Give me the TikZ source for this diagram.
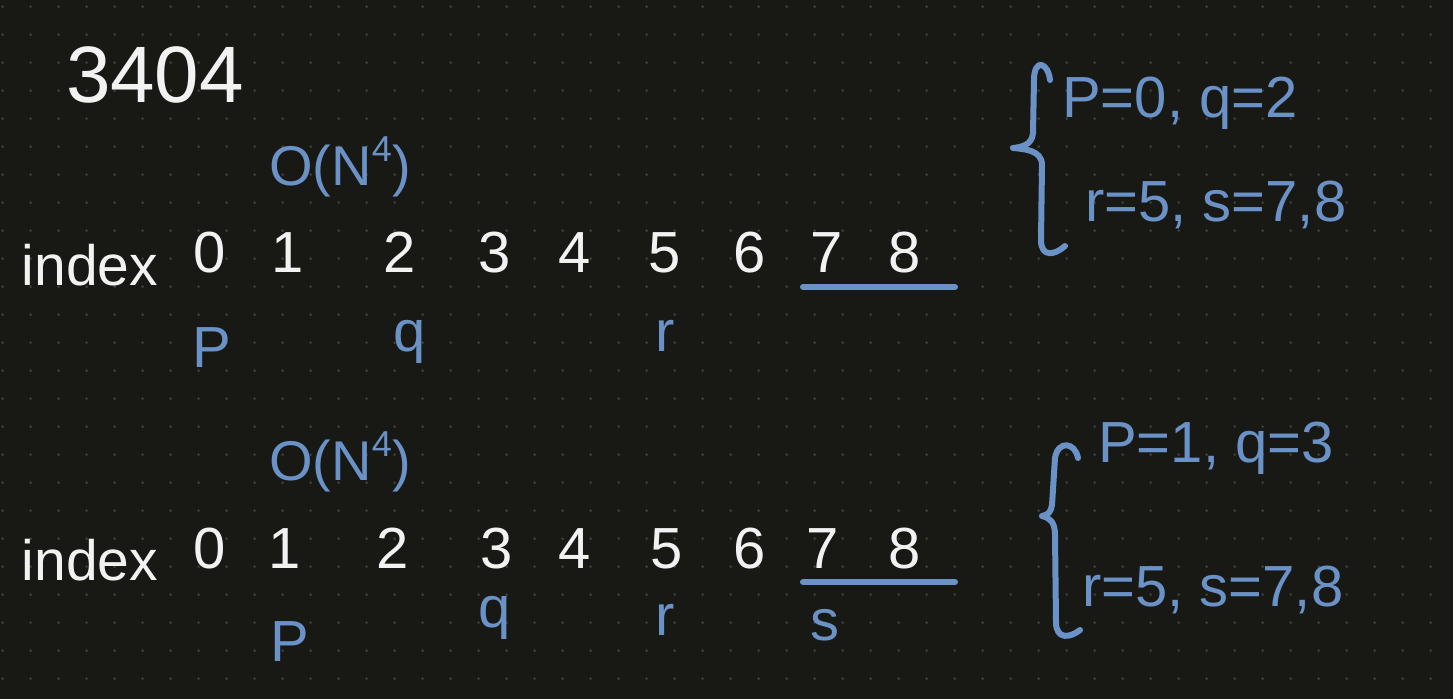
\documentclass[tikz,border=0pt]{standalone}
\usepackage{fontspec}
\setmainfont{Liberation Sans}
\definecolor{bgc}{HTML}{181815}
\definecolor{dotc}{HTML}{3E3E39}
\definecolor{inkw}{HTML}{F2F2F2}
\definecolor{inkb}{HTML}{6A92C6}
\newcommand{\supfour}{\raisebox{0.42em}{\fontsize{36}{36}\selectfont 4}}
\begin{document}
\begin{tikzpicture}[x=1pt,y=-1pt,
  wt/.style={text=inkw, inner sep=0pt, font=\fontsize{58}{60}\selectfont},
  bt/.style={text=inkb, inner sep=0pt, font=\fontsize{58}{60}\selectfont},
  dig/.style={wt, anchor=base},
  ul/.style={draw=inkb, line width=6pt, line cap=round},
  brace/.style={draw=inkb, line width=6pt, line cap=round, line join=round}]
\fill[bgc] (0,0) rectangle (1453,699);
\useasboundingbox (0,0) rectangle (1453,699);
\foreach \i in {0,...,51} {\foreach \j in {0,...,24} {\fill[dotc] (2.7+28*\i,6.7+28*\j) circle (1.5);}}
% title
\node[wt, font=\fontsize{80}{80}\selectfont] (title) at (155,75) {3404};
% row 1
\node[bt, font=\fontsize{56}{60}\selectfont, anchor=base] (o1) at (340,185) {O(N\supfour)};
\node[wt, font=\fontsize{57}{60}\selectfont, anchor=base] (idx1) at (90,285) {index};
\foreach \n/\x in {0/210,1/288,2/400,3/495,4/575,5/665,6/750,7/827,8/905}
  {\node[dig] (a\n) at (\x,272) {\n};}
\coordinate (u1s) at (803,287);
\coordinate (u1e) at (955,287);
\draw[ul] (u1s) -- (u1e);
\node[bt] (p1) at (212,348) {P};
\node[bt] (q1) at (410,342) {q};
\node[bt] (r1) at (665,336) {r};
% row 2
\node[bt, font=\fontsize{56}{60}\selectfont, anchor=base] (o2) at (340,480) {O(N\supfour)};
\node[wt, font=\fontsize{57}{60}\selectfont, anchor=base] (idx2) at (90,580) {index};
\foreach \n/\x in {0/210,1/285,2/393,3/497,4/575,5/667,6/750,7/823,8/905}
  {\node[dig] (b\n) at (\x,568) {\n};}
\coordinate (u2s) at (803,582);
\coordinate (u2e) at (955,582);
\draw[ul] (u2s) -- (u2e);
\node[bt] (p2) at (290,642) {P};
\node[bt] (q2) at (495,618) {q};
\node[bt] (r2) at (665,620) {r};
\node[bt] (s2) at (825,625) {s};
% brace 1
\draw[brace] (1050,80) .. controls (1048,62) and (1034,58) .. (1034,80) -- (1033,133)
  .. controls (1032,145) and (1022,147) .. (1013,148)
  .. controls (1024,149) and (1042,150) .. (1042,165) -- (1041,240)
  .. controls (1041,258) and (1055,255) .. (1065,246);
\node[bt, anchor=west] (c1) at (1062,103) {P=0, q=2};
\node[bt, anchor=west] (c2) at (1085,205) {r=5, s=7,8};
% brace 2
\draw[brace] (1078,458) .. controls (1075,442) and (1058,440) .. (1055,458) -- (1052,505)
  .. controls (1051,512) and (1048,515) .. (1042,516)
  .. controls (1050,518) and (1055,522) .. (1055,535) -- (1056,622)
  .. controls (1056,640) and (1070,638) .. (1080,630);
\node[bt, anchor=west] (c3) at (1098,448) {P=1, q=3};
\node[bt, anchor=west] (c4) at (1082,590) {r=5, s=7,8};
\end{tikzpicture}
\end{document}
